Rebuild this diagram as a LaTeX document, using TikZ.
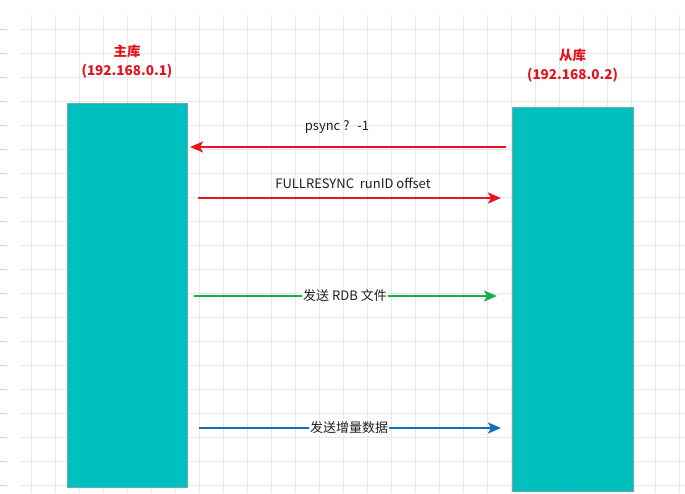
\documentclass[tikz,border=0pt]{standalone}
\usepackage{fontspec}
\setmainfont{Noto Sans CJK SC}
\usetikzlibrary{arrows.meta}
\definecolor{gridgray}{RGB}{232,232,232}
\definecolor{boxteal}{RGB}{0,191,191}
\definecolor{boxedge}{RGB}{110,170,170}
\definecolor{hostred}{RGB}{225,20,30}
\definecolor{msgred}{RGB}{235,20,30}
\definecolor{msggreen}{RGB}{20,175,80}
\definecolor{msgblue}{RGB}{20,110,190}
\definecolor{msgtext}{RGB}{30,30,30}
\tikzset{
  hostbox/.style={draw=boxedge, line width=0.6pt, fill=boxteal, minimum width=120pt, minimum height=384pt, inner sep=0pt},
  hostlabel/.style={text=hostred, font=\fontsize{13.5}{19}\selectfont\bfseries, align=center, inner sep=0pt},
  msglabel/.style={text=msgtext, font=\fontsize{13}{15}\selectfont, inner sep=1pt},
  msgline/.style={line width=2pt, -{Stealth[length=13pt, width=11pt, inset=3pt]}},
}
\begin{document}
\begin{tikzpicture}[x=1pt, y=-1pt]
  \useasboundingbox (0,0) rectangle (685,493);
  \fill[white] (0,0) rectangle (685,493);
  % background grid
  \begin{scope}
    \clip (20,15) rectangle (685,493);
    \foreach \gx in {31,55,...,685} \draw[gridgray, line width=0.8pt] (\gx,15) -- (\gx,493);
    \foreach \gy in {29,53,...,493} \draw[gridgray, line width=0.8pt] (20,\gy) -- (685,\gy);
  \end{scope}
  % ruler ticks on the left edge
  \foreach \gy in {29,53,...,493} \draw[gridgray!80!gray, line width=0.8pt] (0,\gy) -- (7,\gy);

  % the two servers
  \node[hostbox] (master) at (127,295) {};
  \node[hostbox, minimum width=121pt] (slave) at (572.5,299) {};
  \node[hostlabel] (masterlbl) at (127,61.5) {主库\\(192.168.0.1)};
  \node[hostlabel] (slavelbl) at (572.5,66) {从库\\(192.168.0.2)};

  % end points of the messages
  \coordinate (psyncA) at (506,147);
  \coordinate (psyncB) at (190,147);
  \coordinate (fullA) at (198,198);
  \coordinate (fullB) at (501,198);
  \coordinate (rdbA) at (194,296);
  \coordinate (rdbB) at (497,296);
  \coordinate (incA) at (199,428);
  \coordinate (incB) at (501,428);

  % messages
  \draw[msgline, draw=msgred, fill=msgred] (psyncA) -- (psyncB);
  \node[msglabel] (psynclbl) at (337,127) {psync ?~~\,-1};
  \draw[msgline, draw=msgred, fill=msgred] (fullA) -- (fullB);
  \node[msglabel] (fulllbl) at (353,183.5) {FULLRESYNC~~runID offset};
  \draw[msgline, draw=msggreen, fill=msggreen] (rdbA) -- (rdbB);
  \node[msglabel, fill=white] (rdblbl) at (345,296) {发送 RDB 文件};
  \draw[msgline, draw=msgblue, fill=msgblue] (incA) -- (incB);
  \node[msglabel, fill=white] (inclbl) at (349,428) {发送增量数据};
\end{tikzpicture}
\end{document}
